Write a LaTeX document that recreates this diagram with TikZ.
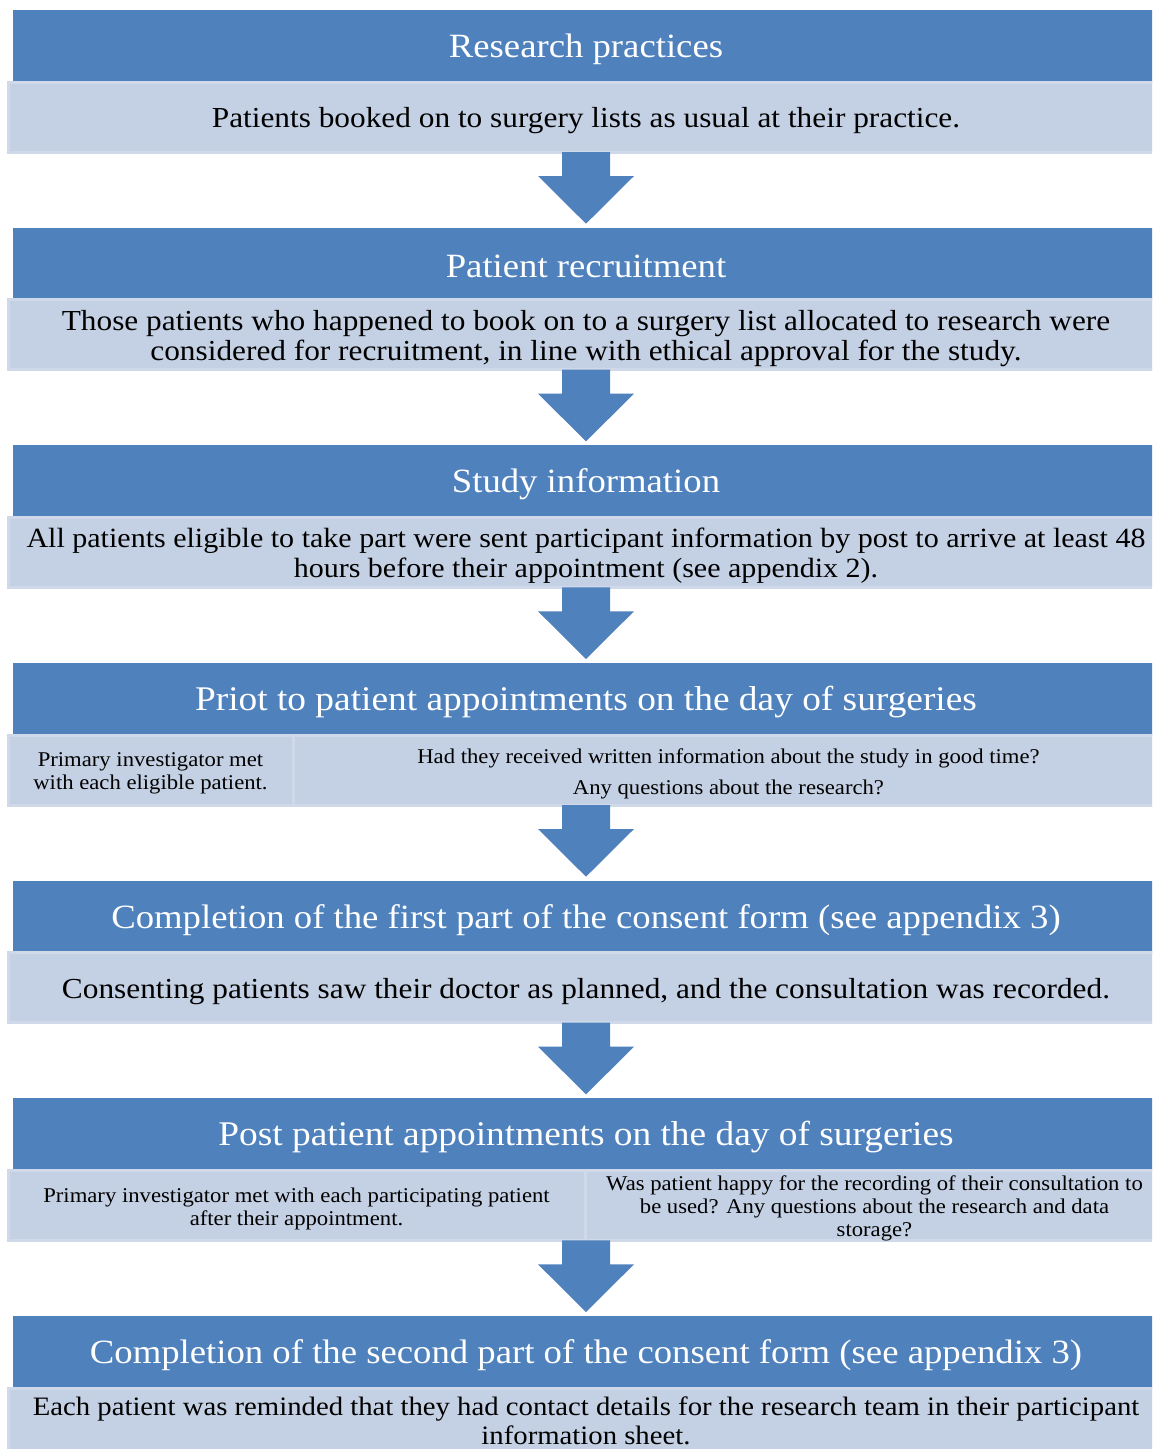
\documentclass[tikz,border=0pt]{standalone}
\usepackage{fontspec}
\setmainfont{Liberation Serif}[FakeStretch=1.08]
\usetikzlibrary{calc}
\definecolor{hdrblue}{HTML}{4F81BD}
\definecolor{lightfill}{HTML}{C4D0E3}
\definecolor{lightedge}{HTML}{D0D9E9}
\newcommand\blockarr[2]{%
  \fill[arrowfill] ($#1+(-24,0)$) -- ($#1+(-24,24)$) -- ($#1+(-48,24)$)
    -- ($#2+(0,-4)$) -- ($#1+(48,24)$) -- ($#1+(24,24)$) -- ($#1+(24,0)$) -- cycle;}
\begin{document}
\begin{tikzpicture}[x=1pt,y=-1pt,
  hdr/.style={fill=hdrblue, draw=none, minimum width=1146pt, minimum height=72pt,
    inner sep=0pt, outer sep=0pt, anchor=north west},
  hdrtext/.style={text=white, inner sep=0pt, align=center, yshift=-3pt,
    font=\fontsize{34}{40}\selectfont},
  lbox/.style={fill=lightfill, draw=lightedge, line width=3pt, minimum width=1156pt,
    minimum height=70pt, inner sep=0pt, outer sep=0pt, anchor=north west},
  btext/.style={inner sep=0pt, align=center, yshift=-3.5pt, font=\fontsize{29}{30}\selectfont},
  smalltxt/.style={font=\fontsize{21}{23}\selectfont},
  arrowfill/.style={fill=hdrblue}]
\useasboundingbox (0,0) rectangle (1152,1449);
\clip (0,0) rectangle (1152,1449);
\fill[white] (0,0) rectangle (1152,1449);

% Section 1
\node[hdr] (h1) at (13,10) {};
\node[hdrtext] (h1t) at (h1.center) {Research practices};
\node[lbox] (l1) at (8,82) {};
\node[btext] (l1t) at (l1.center) {Patients booked on to surgery lists as usual at their practice.};
% Section 2
\node[hdr] (h2) at (13,227.7) {};
\node[hdrtext] (h2t) at (h2.center) {Patient recruitment};
\node[lbox] (l2) at (8,299.7) {};
\node[btext] (l2t) at (l2.center) {Those patients who happened to book on to a surgery list allocated to research were\\considered for recruitment, in line with ethical approval for the study.};
% Section 3
\node[hdr] (h3) at (13,445.3) {};
\node[hdrtext] (h3t) at (h3.center) {Study information};
\node[lbox] (l3) at (8,517.3) {};
\node[btext, font=\fontsize{27.8}{30}\selectfont] (l3t) at (l3.center) {All patients eligible to take part were sent participant information by post to arrive at least 48\\hours before their appointment (see appendix 2).};
% Section 4
\node[hdr] (h4) at (13,663) {};
\node[hdrtext, font=\fontsize{34.6}{40}\selectfont] (h4t) at (h4.center) {Priot to patient appointments on the day of surgeries};
\node[lbox, minimum width=285pt] (l4a) at (8,735) {};
\node[btext, smalltxt] (l4at) at (l4a.center) {Primary investigator met\\with each eligible patient.};
\node[lbox, minimum width=871pt] (l4b) at (293,735) {};
\node[btext, smalltxt] (l4bt) at (l4b.center) {Had they received written information about the study in good time?\\[8pt]Any questions about the research?};
\coordinate (b4) at (l4b.south -| h4.south);
% Section 5
\node[hdr] (h5) at (13,880.7) {};
\node[hdrtext] (h5t) at (h5.center) {Completion of the first part of the consent form (see appendix 3)};
\node[lbox] (l5) at (8,952.7) {};
\node[btext] (l5t) at (l5.center) {Consenting patients saw their doctor as planned, and the consultation was recorded.};
% Section 6
\node[hdr] (h6) at (13,1098.3) {};
\node[hdrtext, font=\fontsize{34.6}{40}\selectfont] (h6t) at (h6.center) {Post patient appointments on the day of surgeries};
\node[lbox, minimum width=577pt] (l6a) at (8,1170.3) {};
\node[btext, smalltxt] (l6at) at (l6a.center) {Primary investigator met with each participating patient\\after their appointment.};
\node[lbox, minimum width=579pt] (l6b) at (585,1170.3) {};
\node[btext, smalltxt] (l6bt) at (l6b.center) {Was patient happy for the recording of their consultation to\\be used? Any questions about the research and data\\storage?};
\coordinate (b6) at (l6b.south -| h6.south);
% Section 7
\node[hdr] (h7) at (13,1316) {};
\node[hdrtext] (h7t) at (h7.center) {Completion of the second part of the consent form (see appendix 3)};
\node[lbox] (l7) at (8,1388) {};
\node[btext, yshift=5.5pt, font=\fontsize{26.6}{29}\selectfont] (l7t) at (l7.center) {Each patient was reminded that they had contact details for the research team in their participant\\information sheet.};

% Block arrows
\blockarr{(l1.south)}{(h2.north)}
\blockarr{(l2.south)}{(h3.north)}
\blockarr{(l3.south)}{(h4.north)}
\blockarr{(b4)}{(h5.north)}
\blockarr{(l5.south)}{(h6.north)}
\blockarr{(b6)}{(h7.north)}
\end{tikzpicture}
\end{document}
